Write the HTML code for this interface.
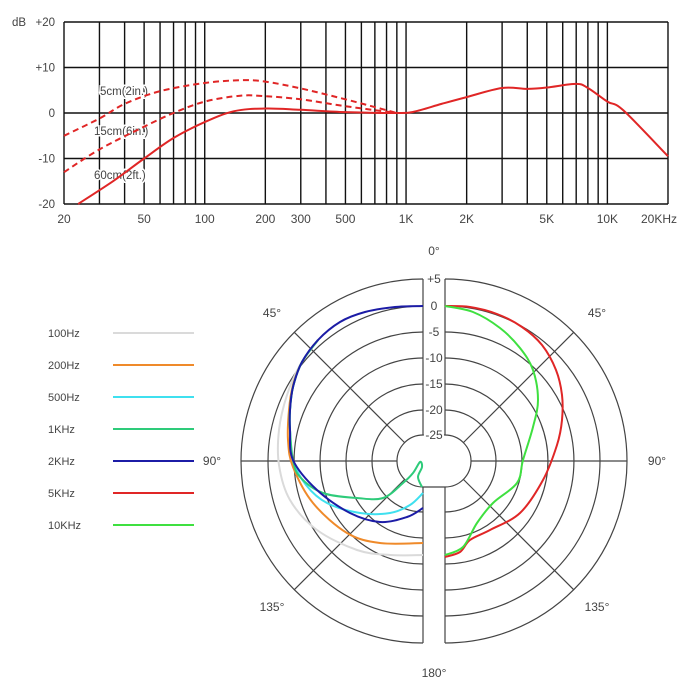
<!DOCTYPE html>
<html><head><meta charset="utf-8"><style>
html,body{margin:0;padding:0;background:#fff;}
svg{display:block;font-family:"Liberation Sans",sans-serif;}
text{fill:#444;}
</style></head><body>
<svg id="s" width="700" height="700" viewBox="0 0 700 700" xmlns="http://www.w3.org/2000/svg"></svg>
<script>
(function(){
const s=document.getElementById('s');let h='';
function X(f){return 64+201.33*Math.log10(f/20);}
function Y(d){return 113-d*4.55;}
[20,30,40,50,60,70,80,90,100,200,300,400,500,600,700,800,900,1000,2000,3000,4000,5000,6000,7000,8000,9000,10000,20000].forEach(f=>{h+=`<line x1="${X(f)}" x2="${X(f)}" y1="22" y2="204" stroke="#111" stroke-width="1.4"/>`;});
[20,10,0,-10,-20].forEach(d=>{h+=`<line x1="64" x2="668" y1="${Y(d)}" y2="${Y(d)}" stroke="#111" stroke-width="1.4"/>`;});
h+=`<text x="12" y="26" font-size="11.5">dB</text>`;
[['+20',20],['+10',10],['0',0],['-10',-10],['-20',-20]].forEach(([t,d])=>{h+=`<text x="55" y="${Y(d)+4}" font-size="11.5" text-anchor="end">${t}</text>`;});
[['20',20],['50',50],['100',100],['200',200],['300',300],['500',500],['1K',1000],['2K',2000],['5K',5000],['10K',10000]].forEach(([t,f])=>{h+=`<text x="${X(f)}" y="223" font-size="12" text-anchor="middle">${t}</text>`;});
h+=`<text x="677" y="223" font-size="12" text-anchor="end">20KHz</text>`;
function cr(p){let d=`M${p[0][0].toFixed(1)},${p[0][1].toFixed(1)}`;for(let i=0;i<p.length-1;i++){const a=p[i-1]||p[i],b=p[i],c=p[i+1],e=p[i+2]||c;d+=` C${(b[0]+(c[0]-a[0])/6).toFixed(1)},${(b[1]+(c[1]-a[1])/6).toFixed(1)} ${(c[0]-(e[0]-b[0])/6).toFixed(1)},${(c[1]-(e[1]-b[1])/6).toFixed(1)} ${c[0].toFixed(1)},${c[1].toFixed(1)}`;}return d;}
const fp=a=>a.map(([f,d])=>[X(f),Y(d)]);
const c60=fp([[23.5,-20],[35,-15],[50,-10],[70,-5.5],[100,-2],[140,0.4],[200,1],[300,0.7],[500,0.2],[900,0],[1100,0.3],[1500,2],[2000,3.5],[3000,5.5],[4000,5.3],[5000,5.6],[7000,6.4],[8000,5.5],[10000,2.5],[12000,0.6],[20000,-9.5]]);
const c5=fp([[20,-5],[30,-1.2],[40,2],[60,4.8],[100,6.6],[150,7.2],[200,6.9],[300,5.4],[500,3],[700,1.3],[900,0]]);
const c15=fp([[20,-13],[30,-8],[50,-3],[70,0],[100,2.5],[150,3.8],[200,3.7],[300,3],[500,1.5],[900,0]]);
h+=`<text x="100" y="95" font-size="11.5" stroke="#fff" stroke-width="3" paint-order="stroke">5cm(2in.)</text><text x="94" y="135" font-size="11.5" stroke="#fff" stroke-width="3" paint-order="stroke">15cm(6in.)</text><text x="94" y="179" font-size="11.5" stroke="#fff" stroke-width="3" paint-order="stroke">60cm(2ft.)</text>`;
h+=`<path d="${cr(c60)}" fill="none" stroke="#e02626" stroke-width="2"/>`;
h+=`<path d="${cr(c5)}" fill="none" stroke="#e02626" stroke-width="2" stroke-dasharray="6,4"/>`;
h+=`<path d="${cr(c15)}" fill="none" stroke="#e02626" stroke-width="2" stroke-dasharray="6,4"/>`;
const cy=461,L=423,R=445,st='stroke="#444" stroke-width="1.2" fill="none"';
[182,155,129,103,77,51,26].forEach(r=>{h+=`<path d="M${L},${cy-r} A${r},${r} 0 0 0 ${L},${cy+r}" ${st}/><path d="M${R},${cy-r} A${r},${r} 0 0 1 ${R},${cy+r}" ${st}/>`;});
const ln=(a,b,c,d)=>{h+=`<line x1="${a}" y1="${b}" x2="${c}" y2="${d}" stroke="#444" stroke-width="1.2"/>`;};
ln(L,cy-26,R,cy-26);ln(L,cy+26,R,cy+26);
ln(L,cy-182,L,cy-26);ln(R,cy-182,R,cy-26);ln(L,cy+26,L,cy+182);ln(R,cy+26,R,cy+182);
ln(L-26,cy,L-182,cy);ln(R+26,cy,R+182,cy);
const k=Math.SQRT1_2;
[[L,-1,-1],[L,-1,1],[R,1,-1],[R,1,1]].forEach(([c,sx,sy])=>ln(c+sx*26*k,cy+sy*26*k,c+sx*182*k,cy+sy*182*k));
[['+5',182],['0',155],['-5',129],['-10',103],['-15',77],['-20',51],['-25',26]].forEach(([t,r])=>{h+=`<text x="434" y="${cy-r+4}" font-size="12" text-anchor="middle" stroke="#fff" stroke-width="4" paint-order="stroke">${t}</text>`;});
h+=`<text x="434" y="255" font-size="12" text-anchor="middle">0°</text><text x="434" y="677" font-size="12" text-anchor="middle">180°</text>`;
h+=`<text x="272" y="317" font-size="12" text-anchor="middle">45°</text><text x="597" y="317" font-size="12" text-anchor="middle">45°</text>`;
h+=`<text x="272" y="611" font-size="12" text-anchor="middle">135°</text><text x="597" y="611" font-size="12" text-anchor="middle">135°</text>`;
h+=`<text x="212" y="465" font-size="12" text-anchor="middle">90°</text><text x="657" y="465" font-size="12" text-anchor="middle">90°</text>`;
const P=(c,pts)=>{h+=`<path d="${cr(pts)}" fill="none" stroke="${c}" stroke-width="2"/>`;};
const tp=[[423,306],[395,307],[365,312],[340,322],[318,340],[302,362],[293,387],[290,410],[290,430]];
P('#dadada',[[318,340],[300,365],[287,395],[279,430],[279,465],[290,500],[317,530],[357,550],[390,555],[423,555]]);
P('#ef8a2a',[[318,340],[302,362],[293,385],[289,410],[288,440],[293,467],[313,503],[347,533],[380,543],[423,543]]);
P('#3fe0ef',tp.slice(4).concat([[293,460],[306,485],[327,503],[360,513],[390,513],[410,505],[423,493]]));
P('#2ecb7a',tp.slice(4).concat([[293,460],[300,477],[323,493],[357,498],[383,498],[403,483],[413,473],[420,462],[422,467],[418,477],[422,487]]));
P('#1c1ca6',tp.concat([[293,460],[317,490],[350,513],[380,522],[407,517],[423,508]]));
P('#e02626',[[445,306],[470,307],[497,314],[522,327],[542,345],[556,370],[562,395],[562,420],[557,445],[543,480],[520,513],[490,530],[470,540],[460,552],[445,557]]);
P('#3fe040',[[445,306],[473,312],[500,328],[520,348],[533,370],[538,400],[533,427],[523,460],[517,483],[493,503],[477,523],[463,547],[445,555]]);
[['100Hz','#dadada'],['200Hz','#ef8a2a'],['500Hz','#3fe0ef'],['1KHz','#2ecb7a'],['2KHz','#1c1ca6'],['5KHz','#e02626'],['10KHz','#3fe040']].forEach(([t,c],i)=>{const y=333+i*32;h+=`<text x="48" y="${y+4}" font-size="11">${t}</text><line x1="113" x2="194" y1="${y}" y2="${y}" stroke="${c}" stroke-width="2"/>`;});
s.innerHTML=h;
})();
</script>
</body></html>
